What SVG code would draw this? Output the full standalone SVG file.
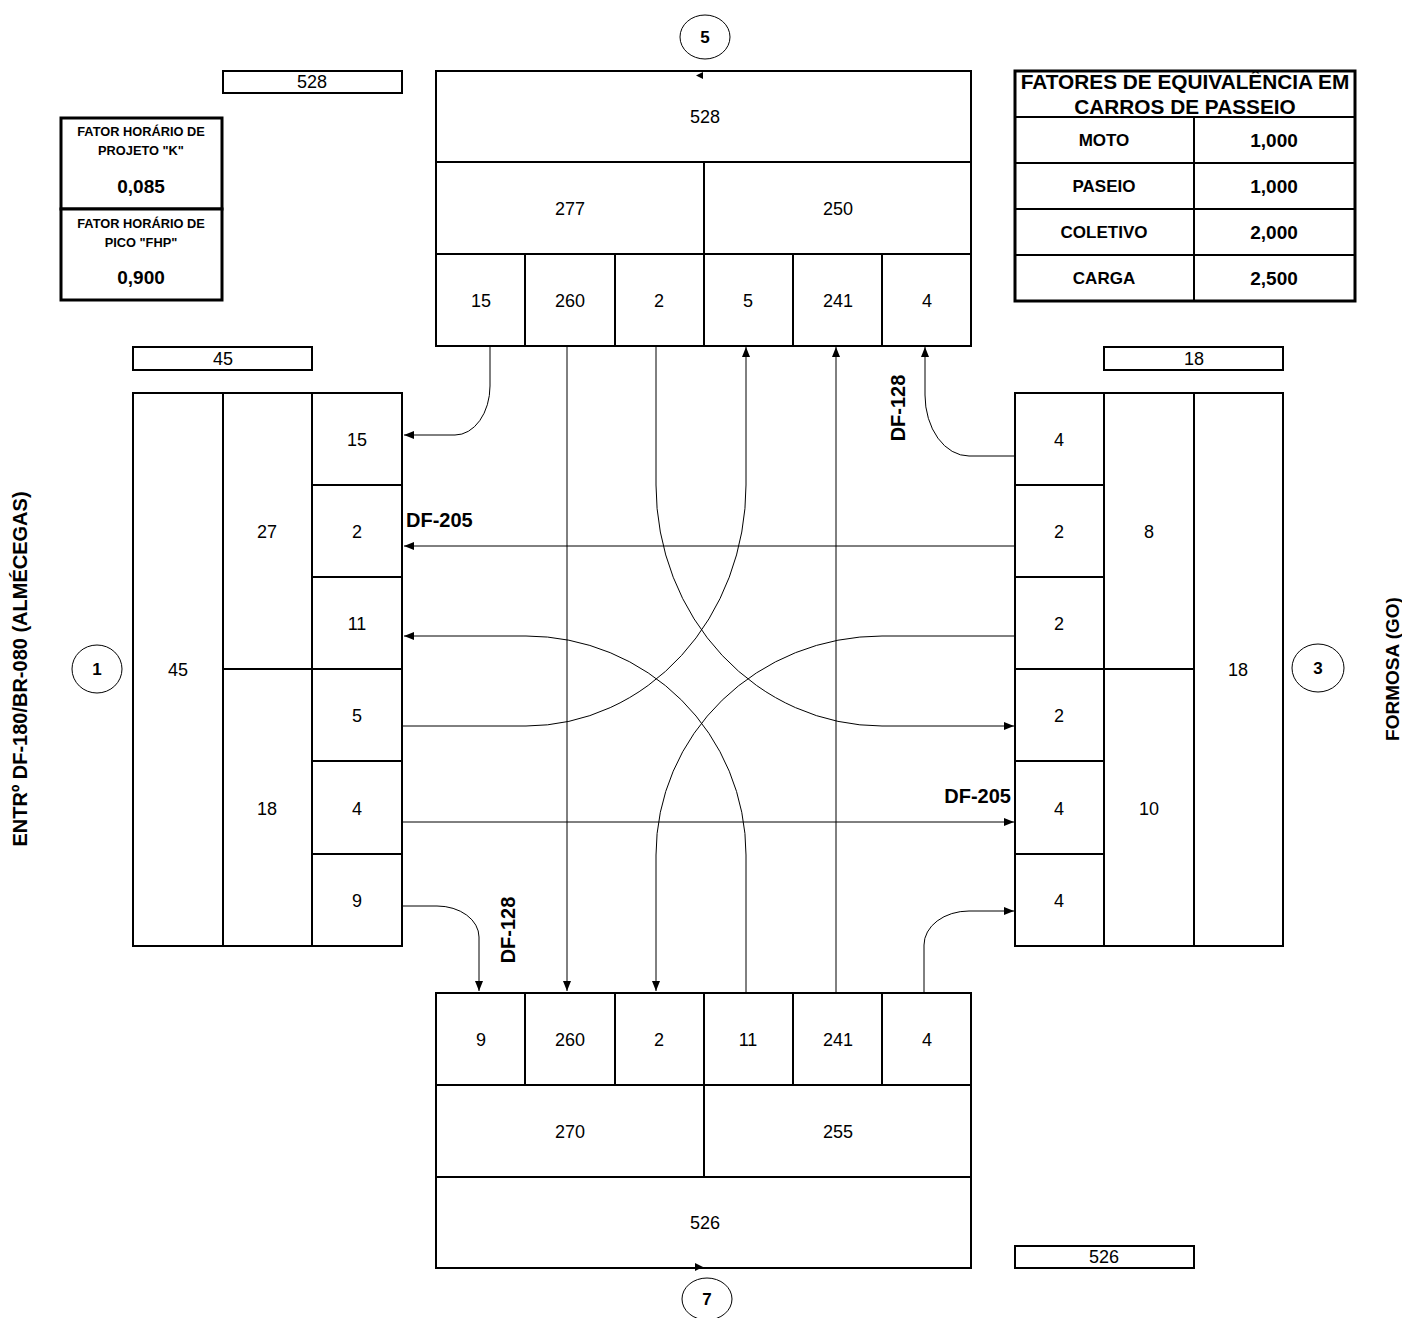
<svg xmlns="http://www.w3.org/2000/svg" width="1402" height="1318" viewBox="0 0 1402 1318">
<style>
.b{fill:#fff;stroke:#000;stroke-width:2}
.tb{fill:#fff;stroke:#000;stroke-width:3}
.n{font-family:"Liberation Sans",Arial,sans-serif;font-size:18px;fill:#000;text-anchor:middle}
.bd{font-family:"Liberation Sans",Arial,sans-serif;font-weight:bold;fill:#000;text-anchor:middle}
.c{fill:none;stroke:#000;stroke-width:1}
.el{fill:#fff;stroke:#000;stroke-width:1}
</style>
<defs>
<marker id="ar" markerUnits="userSpaceOnUse" markerWidth="10" markerHeight="8" refX="10" refY="4" orient="auto">
<path d="M0,0 L10,4 L0,8 z" fill="#000"/>
</marker>
<clipPath id="hclip"><rect x="1016" y="72" width="338" height="44"/></clipPath>
</defs>

<g id="connectors">
<path class="c" d="M490,346 V386 A35,49 0 0 1 455,435 H404" marker-end="url(#ar)"/>
<path class="c" d="M567,346 V991" marker-end="url(#ar)"/>
<path class="c" d="M656,346 V485 A226,241 0 0 0 882,726 H1014" marker-end="url(#ar)"/>
<path class="c" d="M402,726 H526 A220,241 0 0 0 746,485 V347" marker-end="url(#ar)"/>
<path class="c" d="M836,993 V347" marker-end="url(#ar)"/>
<path class="c" d="M1015,456 H969 A44,61 0 0 1 925,395 V347" marker-end="url(#ar)"/>
<path class="c" d="M1015,546 H404" marker-end="url(#ar)"/>
<path class="c" d="M746,993 V855 A220,219 0 0 0 526,636 H404" marker-end="url(#ar)"/>
<path class="c" d="M1015,636 H882 A226,219 0 0 0 656,855 V991" marker-end="url(#ar)"/>
<path class="c" d="M402,822 H1014" marker-end="url(#ar)"/>
<path class="c" d="M402,906 H437 A42,31 0 0 1 479,937 V991" marker-end="url(#ar)"/>
<path class="c" d="M924,993 V945 A45,34 0 0 1 969,911 H1014" marker-end="url(#ar)"/>
</g>

<g id="top-block">
<rect class="b" x="436" y="71" width="535" height="91"/>
<rect class="b" x="436" y="162" width="268" height="92"/>
<rect class="b" x="704" y="162" width="267" height="92"/>
<rect class="b" x="436" y="254" width="89" height="92"/>
<rect class="b" x="525" y="254" width="90" height="92"/>
<rect class="b" x="615" y="254" width="89" height="92"/>
<rect class="b" x="704" y="254" width="89" height="92"/>
<rect class="b" x="793" y="254" width="89" height="92"/>
<rect class="b" x="882" y="254" width="89" height="92"/>
<text class="n" x="705" y="123">528</text>
<text class="n" x="570" y="215">277</text>
<text class="n" x="838" y="215">250</text>
<text class="n" x="481" y="307">15</text>
<text class="n" x="570" y="307">260</text>
<text class="n" x="659" y="307">2</text>
<text class="n" x="748" y="307">5</text>
<text class="n" x="838" y="307">241</text>
<text class="n" x="927" y="307">4</text>
<path d="M696,75.5 L703,72 L703,79 z" fill="#000"/>
</g>

<g id="bottom-block">
<rect class="b" x="436" y="993" width="89" height="92"/>
<rect class="b" x="525" y="993" width="90" height="92"/>
<rect class="b" x="615" y="993" width="89" height="92"/>
<rect class="b" x="704" y="993" width="89" height="92"/>
<rect class="b" x="793" y="993" width="89" height="92"/>
<rect class="b" x="882" y="993" width="89" height="92"/>
<rect class="b" x="436" y="1085" width="268" height="92"/>
<rect class="b" x="704" y="1085" width="267" height="92"/>
<rect class="b" x="436" y="1177" width="535" height="91"/>
<text class="n" x="481" y="1046">9</text>
<text class="n" x="570" y="1046">260</text>
<text class="n" x="659" y="1046">2</text>
<text class="n" x="748" y="1046">11</text>
<text class="n" x="838" y="1046">241</text>
<text class="n" x="927" y="1046">4</text>
<text class="n" x="570" y="1138">270</text>
<text class="n" x="838" y="1138">255</text>
<text class="n" x="705" y="1229">526</text>
<path d="M703,1267 L695,1263 L695,1271 z" fill="#000"/>
</g>

<g id="left-block">
<rect class="b" x="133" y="393" width="90" height="553"/>
<rect class="b" x="223" y="393" width="89" height="276"/>
<rect class="b" x="223" y="669" width="89" height="277"/>
<rect class="b" x="312" y="393" width="90" height="92"/>
<rect class="b" x="312" y="485" width="90" height="92"/>
<rect class="b" x="312" y="577" width="90" height="92"/>
<rect class="b" x="312" y="669" width="90" height="92"/>
<rect class="b" x="312" y="761" width="90" height="93"/>
<rect class="b" x="312" y="854" width="90" height="92"/>
<text class="n" x="178" y="676">45</text>
<text class="n" x="267" y="538">27</text>
<text class="n" x="267" y="815">18</text>
<text class="n" x="357" y="446">15</text>
<text class="n" x="357" y="538">2</text>
<text class="n" x="357" y="630">11</text>
<text class="n" x="357" y="722">5</text>
<text class="n" x="357" y="815">4</text>
<text class="n" x="357" y="907">9</text>
</g>

<g id="right-block">
<rect class="b" x="1015" y="393" width="89" height="92"/>
<rect class="b" x="1015" y="485" width="89" height="92"/>
<rect class="b" x="1015" y="577" width="89" height="92"/>
<rect class="b" x="1015" y="669" width="89" height="92"/>
<rect class="b" x="1015" y="761" width="89" height="93"/>
<rect class="b" x="1015" y="854" width="89" height="92"/>
<rect class="b" x="1104" y="393" width="90" height="276"/>
<rect class="b" x="1104" y="669" width="90" height="277"/>
<rect class="b" x="1194" y="393" width="89" height="553"/>
<text class="n" x="1059" y="446">4</text>
<text class="n" x="1059" y="538">2</text>
<text class="n" x="1059" y="630">2</text>
<text class="n" x="1059" y="722">2</text>
<text class="n" x="1059" y="815">4</text>
<text class="n" x="1059" y="907">4</text>
<text class="n" x="1149" y="538">8</text>
<text class="n" x="1149" y="815">10</text>
<text class="n" x="1238" y="676">18</text>
</g>

<g id="total-top"><rect class="b" x="223" y="71" width="179" height="22"/><text class="n" x="312" y="88">528</text></g>
<g id="total-left"><rect class="b" x="133" y="347" width="179" height="23"/><text class="n" x="223" y="365">45</text></g>
<g id="total-right"><rect class="b" x="1104" y="347" width="179" height="23"/><text class="n" x="1194" y="365">18</text></g>
<g id="total-bottom"><rect class="b" x="1015" y="1246" width="179" height="22"/><text class="n" x="1104" y="1263">526</text></g>

<g id="node-5"><ellipse class="el" cx="705" cy="37" rx="25" ry="22"/><text class="bd" x="705" y="43" font-size="17">5</text></g>
<g id="node-7"><ellipse class="el" cx="707" cy="1299" rx="25" ry="21"/><text class="bd" x="707" y="1305" font-size="17">7</text></g>
<g id="node-1"><ellipse class="el" cx="97" cy="669" rx="25" ry="24"/><text class="bd" x="97" y="675" font-size="17">1</text></g>
<g id="node-3"><ellipse class="el" cx="1318" cy="668" rx="26" ry="24"/><text class="bd" x="1318" y="674" font-size="17">3</text></g>

<g id="factor-box">
<rect class="tb" x="61" y="118" width="161" height="91"/>
<rect class="tb" x="61" y="209" width="161" height="91"/>
<text class="bd" x="141" y="136" font-size="12.8">FATOR HORÁRIO DE</text>
<text class="bd" x="141" y="155" font-size="12.8">PROJETO "K"</text>
<text class="bd" x="141" y="193" font-size="19">0,085</text>
<text class="bd" x="141" y="228" font-size="12.8">FATOR HORÁRIO DE</text>
<text class="bd" x="141" y="247" font-size="12.8">PICO "FHP"</text>
<text class="bd" x="141" y="284" font-size="19">0,900</text>
</g>

<g id="equivalence-table">
<rect class="tb" x="1015" y="71" width="340" height="230"/>
<line x1="1015" y1="117" x2="1355" y2="117" stroke="#000" stroke-width="2"/>
<line x1="1015" y1="163" x2="1355" y2="163" stroke="#000" stroke-width="2"/>
<line x1="1015" y1="209" x2="1355" y2="209" stroke="#000" stroke-width="2"/>
<line x1="1015" y1="255" x2="1355" y2="255" stroke="#000" stroke-width="2"/>
<line x1="1194" y1="117" x2="1194" y2="301" stroke="#000" stroke-width="2"/>
<g clip-path="url(#hclip)">
<text class="bd" x="1185" y="89" font-size="20.8">FATORES DE EQUIVALÊNCIA EM</text>
<text class="bd" x="1185" y="114" font-size="20.8">CARROS DE PASSEIO</text>
</g>
<text class="bd" x="1104" y="146" font-size="17">MOTO</text>
<text class="bd" x="1104" y="192" font-size="17">PASEIO</text>
<text class="bd" x="1104" y="238" font-size="17">COLETIVO</text>
<text class="bd" x="1104" y="284" font-size="17">CARGA</text>
<text class="bd" x="1274" y="147" font-size="19">1,000</text>
<text class="bd" x="1274" y="193" font-size="19">1,000</text>
<text class="bd" x="1274" y="239" font-size="19">2,000</text>
<text class="bd" x="1274" y="285" font-size="19">2,500</text>
</g>

<g id="labels">
<text class="bd" font-size="20" transform="translate(27,669) rotate(-90)">ENTRº DF-180/BR-080 (ALMÉCEGAS)</text>
<text class="bd" font-size="19" transform="translate(1399,669) rotate(-90)">FORMOSA (GO)</text>
<text class="bd" font-size="20" x="406" y="527" style="text-anchor:start">DF-205</text>
<text class="bd" font-size="20" x="1011" y="803" style="text-anchor:end">DF-205</text>
<text class="bd" font-size="20" transform="translate(905,408) rotate(-90)">DF-128</text>
<text class="bd" font-size="20" transform="translate(515,930) rotate(-90)">DF-128</text>
</g>
</svg>
